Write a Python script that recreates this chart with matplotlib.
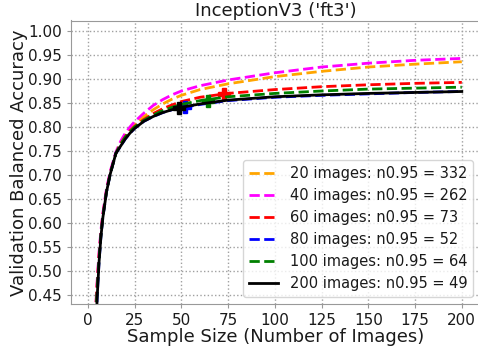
"""
Learning curves of validation balanced accuracy against sample size
"""

import matplotlib
matplotlib.use("Agg")
import matplotlib.pyplot as plt
import numpy as np

# sample sizes where the curves were read
sample_sizes = [1, 4, 5, 6, 7, 8, 10, 12, 15, 17.5, 20, 22.5, 25, 30, 35, 40, 45, 50,
                60, 75, 100, 125, 150, 175, 200]

acc_20 = [0.0, 0.41, 0.475, 0.535, 0.58, 0.617, 0.668, 0.705, 0.745, 0.767, 0.783, 0.796, 0.806,
          0.822, 0.836, 0.848, 0.858, 0.866, 0.878, 0.890, 0.905, 0.916, 0.925, 0.931, 0.936]
acc_40 = [0.0, 0.41, 0.48, 0.54, 0.585, 0.62, 0.672, 0.708, 0.748, 0.770, 0.787, 0.800, 0.811,
          0.829, 0.845, 0.857, 0.867, 0.875, 0.886, 0.898, 0.913, 0.925, 0.933, 0.939, 0.943]
acc_60 = [0.0, 0.40, 0.47, 0.53, 0.577, 0.614, 0.667, 0.704, 0.745, 0.765, 0.780, 0.792, 0.801,
          0.816, 0.828, 0.838, 0.846, 0.853, 0.862, 0.870, 0.878, 0.884, 0.888, 0.891, 0.893]
acc_80 = [0.0, 0.34, 0.447, 0.519, 0.571, 0.610, 0.665, 0.702, 0.745, 0.760, 0.775, 0.787, 0.797,
          0.812, 0.822, 0.830, 0.836, 0.840, 0.847, 0.855, 0.862, 0.866, 0.869, 0.872, 0.874]
acc_100 = [0.0, 0.39, 0.46, 0.525, 0.574, 0.612, 0.666, 0.703, 0.745, 0.764, 0.779, 0.790, 0.800,
           0.814, 0.825, 0.834, 0.841, 0.847, 0.855, 0.863, 0.870, 0.875, 0.879, 0.881, 0.883]
acc_200 = [0.0, 0.335, 0.445, 0.518, 0.571, 0.610, 0.665, 0.702, 0.745, 0.760, 0.775, 0.787, 0.797,
           0.812, 0.822, 0.830, 0.836, 0.841, 0.848, 0.856, 0.863, 0.867, 0.870, 0.872, 0.874]

train_sizes = [20, 40, 60, 80, 100, 200]
n95 = [332, 262, 73, 52, 64, 49]
# accuracy at n0.95 (only shown when it falls inside the x range)
n95_acc = [np.nan, np.nan, 0.869, 0.841, 0.854, 0.840]

colors = ["orange", "magenta", "red", "blue", "green", "black"]
styles = ["--", "--", "--", "--", "--", "-"]

x_ticks = [0, 25, 50, 75, 100, 125, 150, 175, 200]
y_ticks = [0.45, 0.50, 0.55, 0.60, 0.65, 0.70, 0.75, 0.80, 0.85, 0.90, 0.95, 1.00]


def plot_curves() -> None:
    """Draws one learning curve per training set size, with a marker at n0.95"""
    curves = [acc_20, acc_40, acc_60, acc_80, acc_100, acc_200]
    text_color = "#1a1a1a"

    fig = plt.figure(figsize=(4.78, 3.6), dpi=100)
    ax = fig.add_axes([71 / 478, 56 / 360, 409.5 / 478, 283.5 / 360])

    for size, acc, n, n_acc, color, ls in zip(train_sizes, curves, n95, n95_acc, colors, styles):
        ax.plot(sample_sizes, acc, ls, color=color, lw=2,
                label=f"{size} images: n0.95 = {n}")
        if n <= max(sample_sizes):
            ax.plot(n, n_acc, "P", color=color, ms=8, mec=color)

    ax.set_xlim(-9, 210)
    ax.set_ylim(0.431, 1.022)
    ax.set_xticks(x_ticks)
    ax.set_yticks(y_ticks)
    ax.set_yticklabels([f"{t:.2f}" for t in y_ticks])

    ax.grid(True, linestyle=":", color="#a0a0a0", lw=1)
    for spine in ax.spines.values():
        spine.set_color("#999999")
    ax.tick_params(labelsize=11, colors="#999999", labelcolor=text_color, length=3)

    ax.set_title("InceptionV3 ('ft3')", fontsize=13, color=text_color, pad=2.7)
    ax.set_xlabel("Sample Size (Number of Images)", fontsize=13, color=text_color, labelpad=0)
    ax.set_ylabel("Validation Balanced Accuracy", fontsize=13, color=text_color, labelpad=0)

    leg = ax.legend(loc="lower right", fontsize=10.5, labelspacing=0.48)
    for txt in leg.get_texts():
        txt.set_color(text_color)

    fig.savefig("out.png", dpi=100)


plot_curves()
